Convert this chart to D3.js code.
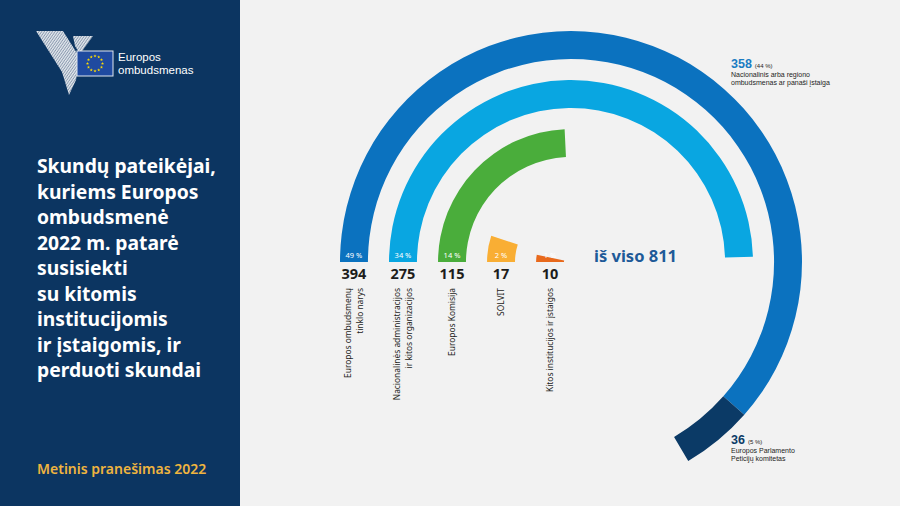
<!DOCTYPE html>
<html><head><meta charset="utf-8">
<script src="https://cdn.jsdelivr.net/npm/d3@7"></script>
<style>html,body{margin:0;padding:0;background:#f2f2f2;} svg{display:block;font-family:"Noto Sans",sans-serif;}</style>
</head><body><svg id="c" width="900" height="506"></svg>
<script>
// ---------- data ----------
const categories = ["Europos ombudsmenų tinklo narys", "Nacionalinės administracijos ir kitos organizacijos", "Europos Komisija", "SOLVIT", "Kitos institucijos ir įstaigos"];
const categoryLines = [["Europos ombudsmenų", "tinklo narys"], ["Nacionalinės administracijos", "ir kitos organizacijos"], ["Europos Komisija"], ["SOLVIT"], ["Kitos institucijos ir įstaigos"]];
const values = [394, 275, 115, 17, 10];
const percents = ["49 %", "34 %", "14 %", "2 %", "1 %"];
const colors = ["#0b72bf", "#09a6e1", "#4aad3b", "#f9ae34", "#e8691c"];
const networkParts = [["Nacionalinis arba regiono", "ombudsmenas ar panaši įstaiga"], ["Europos Parlamento", "Peticijų komitetas"]];
const networkValues = [358, 36];
const networkPercents = ["(44 %)", "(5 %)"];
const networkColors = ["#0b72bf", "#0b3a66"];
const total = 811;
const totalLabel = "iš viso";
const titleLines = ["Skundų pateikėjai,", "kuriems Europos", "ombudsmenė", "2022 m. patarė", "susisiekti", "su kitomis", "institucijomis", "ir įstaigomis, ir", "perduoti skundai"];
const footer = "Metinis pranešimas 2022";
const logoLines = ["Europos", "ombudsmenas"];

// ---------- layout ----------
const svg = d3.select("#c");
const W = 900, H = 506, panelW = 240;
svg.append("rect").attr("width", W).attr("height", H).attr("fill", "#f2f2f2");
svg.append("rect").attr("width", panelW).attr("height", H).attr("fill", "#0c3561");

// logo
const defs = svg.append("defs");
const pat = defs.append("pattern").attr("id", "hatch").attr("patternUnits", "userSpaceOnUse")
  .attr("width", 2.2).attr("height", 2.2).attr("patternTransform", "rotate(35)");
pat.append("rect").attr("width", 2.2).attr("height", 2.2).attr("fill", "#8c9bb0");
pat.append("rect").attr("width", 1.2).attr("height", 2.2).attr("fill", "#e6ebf0");
const logo = svg.append("g");
logo.append("polygon").attr("points", "36,31 63,31 80,58 76,80 69,95 62,72").attr("fill", "url(#hatch)");
logo.append("polygon").attr("points", "73,36 93,36 80,54 75,46").attr("fill", "url(#hatch)");
logo.append("rect").attr("x", 77).attr("y", 51).attr("width", 36).attr("height", 25)
  .attr("fill", "#1f4aa0").attr("stroke", "#dfe6ee").attr("stroke-width", 1);
const starSym = d3.symbol().type(d3.symbolStar).size(3.2);
d3.range(12).forEach(i => {
  const a = i / 12 * 2 * Math.PI;
  logo.append("path").attr("d", starSym())
    .attr("transform", `translate(${95 + 7.5 * Math.sin(a)},${63.5 - 7.5 * Math.cos(a)})`)
    .attr("fill", "#ffdd00");
});
logo.selectAll("text.logo").data(logoLines).join("text").attr("class", "logo")
  .attr("x", 118).attr("y", (d, i) => 61 + i * 13)
  .attr("font-family", "'Liberation Sans', Arial, sans-serif")
  .attr("fill", "#ffffff").attr("font-size", 11.5).text(d => d);

// title
svg.append("g").selectAll("text").data(titleLines).join("text")
  .attr("x", 37).attr("y", (d, i) => 173 + i * 25.5)
  .attr("fill", "#ffffff").attr("font-size", 19.3).attr("font-weight", 700).text(d => d);

svg.append("text").attr("x", 37).attr("y", 474).attr("fill", "#efb43f")
  .attr("font-size", 14).attr("font-weight", 600).text(footer);

// ---------- chart ----------
const cx = 571, cy = 262;
const angle = d3.scalePow().exponent(0.82).domain([0, values[0]]).range([0, 239.5 * Math.PI / 180]);
const radius = d3.scaleBand().domain(categories).range([231, 7]).paddingInner(0.43);
const bw = radius.bandwidth();
const start = -Math.PI / 2;
const chart = svg.append("g").attr("transform", `translate(${cx},${cy})`);

// ring 0 split into its parts
let acc = 0;
const r0 = radius(categories[0]);
networkValues.forEach((v, j) => {
  const a0 = angle(acc), a1 = angle(acc + v);
  acc += v;
  chart.append("path").attr("d", d3.arc()({innerRadius: r0, outerRadius: r0 + bw, startAngle: start + a0, endAngle: start + a1}))
    .attr("fill", networkColors[j]);
});
// other rings
categories.forEach((c, i) => {
  if (i === 0) return;
  const r = radius(c);
  chart.append("path").attr("d", d3.arc()({innerRadius: r, outerRadius: r + bw, startAngle: start, endAngle: start + angle(values[i])}))
    .attr("fill", colors[i]);
});

// labels
categories.forEach((c, i) => {
  const xm = cx - (radius(c) + bw / 2);
  svg.append("text").attr("x", xm).attr("y", 258).attr("text-anchor", "middle")
    .attr("fill", "#ffffff").attr("font-size", 7.5).text(percents[i]);
  svg.append("text").attr("x", xm).attr("y", 279).attr("text-anchor", "middle")
    .attr("fill", "#1d1d1b").attr("font-size", 14.5).attr("font-weight", 700).text(values[i]);
  const lines = categoryLines[i];
  lines.forEach((l, k) => {
    const xc = xm + (k - (lines.length - 1) / 2) * 11.5 + 3;
    svg.append("text").attr("transform", `translate(${xc},288) rotate(-90)`)
      .attr("text-anchor", "end").attr("fill", "#1d1d1b").attr("font-size", 8.4).text(l);
  });
});

svg.append("text").attr("x", 594).attr("y", 262).attr("fill", "#1e5a98")
  .attr("font-size", 16.5).attr("font-weight", 700).text(`${totalLabel} ${total}`);

// network annotations
const annPos = [[731, 68], [731, 444]];
const annColors = ["#1a7cc2", "#0b3a66"];
networkValues.forEach((v, j) => {
  const [x, y] = annPos[j];
  const t = svg.append("text").attr("x", x).attr("y", y)
    .attr("font-family", "'Liberation Sans', Arial, sans-serif");
  t.append("tspan").attr("fill", annColors[j]).attr("font-size", 12.5).attr("font-weight", 700).text(v);
  t.append("tspan").attr("dx", 3).attr("fill", "#1d1d1b").attr("font-size", 6).text(networkPercents[j]);
  networkParts[j].forEach((l, k) => {
    svg.append("text").attr("x", x).attr("y", y + 9 + k * 8)
      .attr("font-family", "'Liberation Sans', Arial, sans-serif")
      .attr("fill", "#1d1d1b").attr("font-size", 7).text(l);
  });
});
</script></body></html>
